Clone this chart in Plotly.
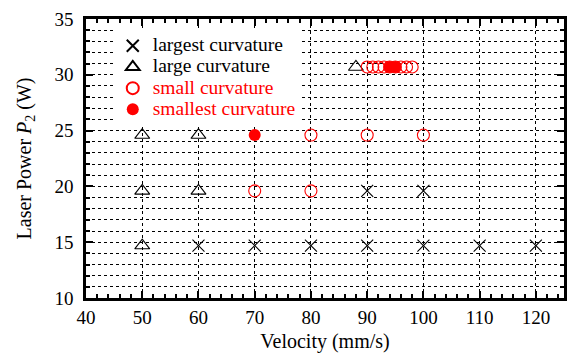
import plotly.graph_objects as go

# Data
largest_x = [60, 70, 80, 90, 100, 110, 120, 90, 100]
largest_y = [14.7, 14.7, 14.7, 14.7, 14.7, 14.7, 14.7, 19.6, 19.6]

large_x = [50, 50, 60, 50, 60, 88]
large_y = [14.7, 19.6, 19.6, 24.6, 24.6, 30.7]

small_x = [70, 80, 80, 90, 100, 90, 91, 92, 93, 94, 95, 96, 97, 98]
small_y = [19.6, 19.6, 24.6, 24.6, 24.6, 30.7, 30.7, 30.7, 30.7, 30.7, 30.7, 30.7, 30.7, 30.7]

smallest_x = [70, 94, 95]
smallest_y = [24.6, 30.7, 30.7]

FONT = "Liberation Serif, Times New Roman, Times, serif"

def lg(text, color="black"):
    return f"<span style='font-size:19.5px;color:{color}'>{text}</span>"

fig = go.Figure()
fig.add_trace(go.Scatter(x=largest_x, y=largest_y, mode="markers", name=lg("largest curvature"),
                         marker=dict(symbol="x-thin", size=12, line=dict(color="black", width=1.1))))
fig.add_trace(go.Scatter(x=large_x, y=large_y, mode="markers", name=lg("large curvature"),
                         marker=dict(symbol="triangle-up-open", size=13, color="black", line=dict(width=1.1))))
fig.add_trace(go.Scatter(x=small_x, y=small_y, mode="markers", name=lg("small curvature", "red"),
                         marker=dict(symbol="circle-open", size=12, color="red", line=dict(width=1.1))))
fig.add_trace(go.Scatter(x=smallest_x, y=smallest_y, mode="markers", name=lg("smallest curvature", "red"),
                         marker=dict(symbol="circle", size=12, color="red")))

axis_common = dict(
    showline=True, linecolor="black", linewidth=2.5, mirror="ticks",
    ticks="inside", ticklen=7, tickwidth=2, tickcolor="black",
    showgrid=True, gridcolor="black", griddash="dot", gridwidth=1,
    zeroline=False,
    tickfont=dict(family=FONT, size=19, color="black"),
)

fig.update_layout(
    width=573, height=356,
    margin=dict(l=86, r=6, t=19, b=56),
    paper_bgcolor="white", plot_bgcolor="white",
    font=dict(family=FONT, size=16, color="black"),
    showlegend=True,
    legend=dict(x=0.056, y=0.96, xanchor="left", yanchor="top",
                bgcolor="white", borderwidth=0,
                font=dict(family=FONT, size=14, color="black"),
                itemsizing="constant", tracegroupgap=0, itemwidth=30),
    xaxis=dict(range=[40, 125], dtick=10, tick0=40,
               minor=dict(dtick=2, ticks="inside", ticklen=4, tickwidth=1.5, tickcolor="black", showgrid=False),
               title=dict(text="Velocity (mm/s)", font=dict(family=FONT, size=20, color="black"), standoff=8),
               **axis_common),
    yaxis=dict(range=[10, 35], dtick=5, tick0=10, ticklabelstandoff=6,
               minor=dict(dtick=1, ticks="inside", ticklen=4, tickwidth=2, tickcolor="black",
                          showgrid=True, gridcolor="black", griddash="dot", gridwidth=1),
               title=dict(text="Laser Power <i>P</i><sub>2</sub> (W)", font=dict(family=FONT, size=20, color="black"), standoff=18),
               **axis_common),
)

fig.write_html("out.html")
